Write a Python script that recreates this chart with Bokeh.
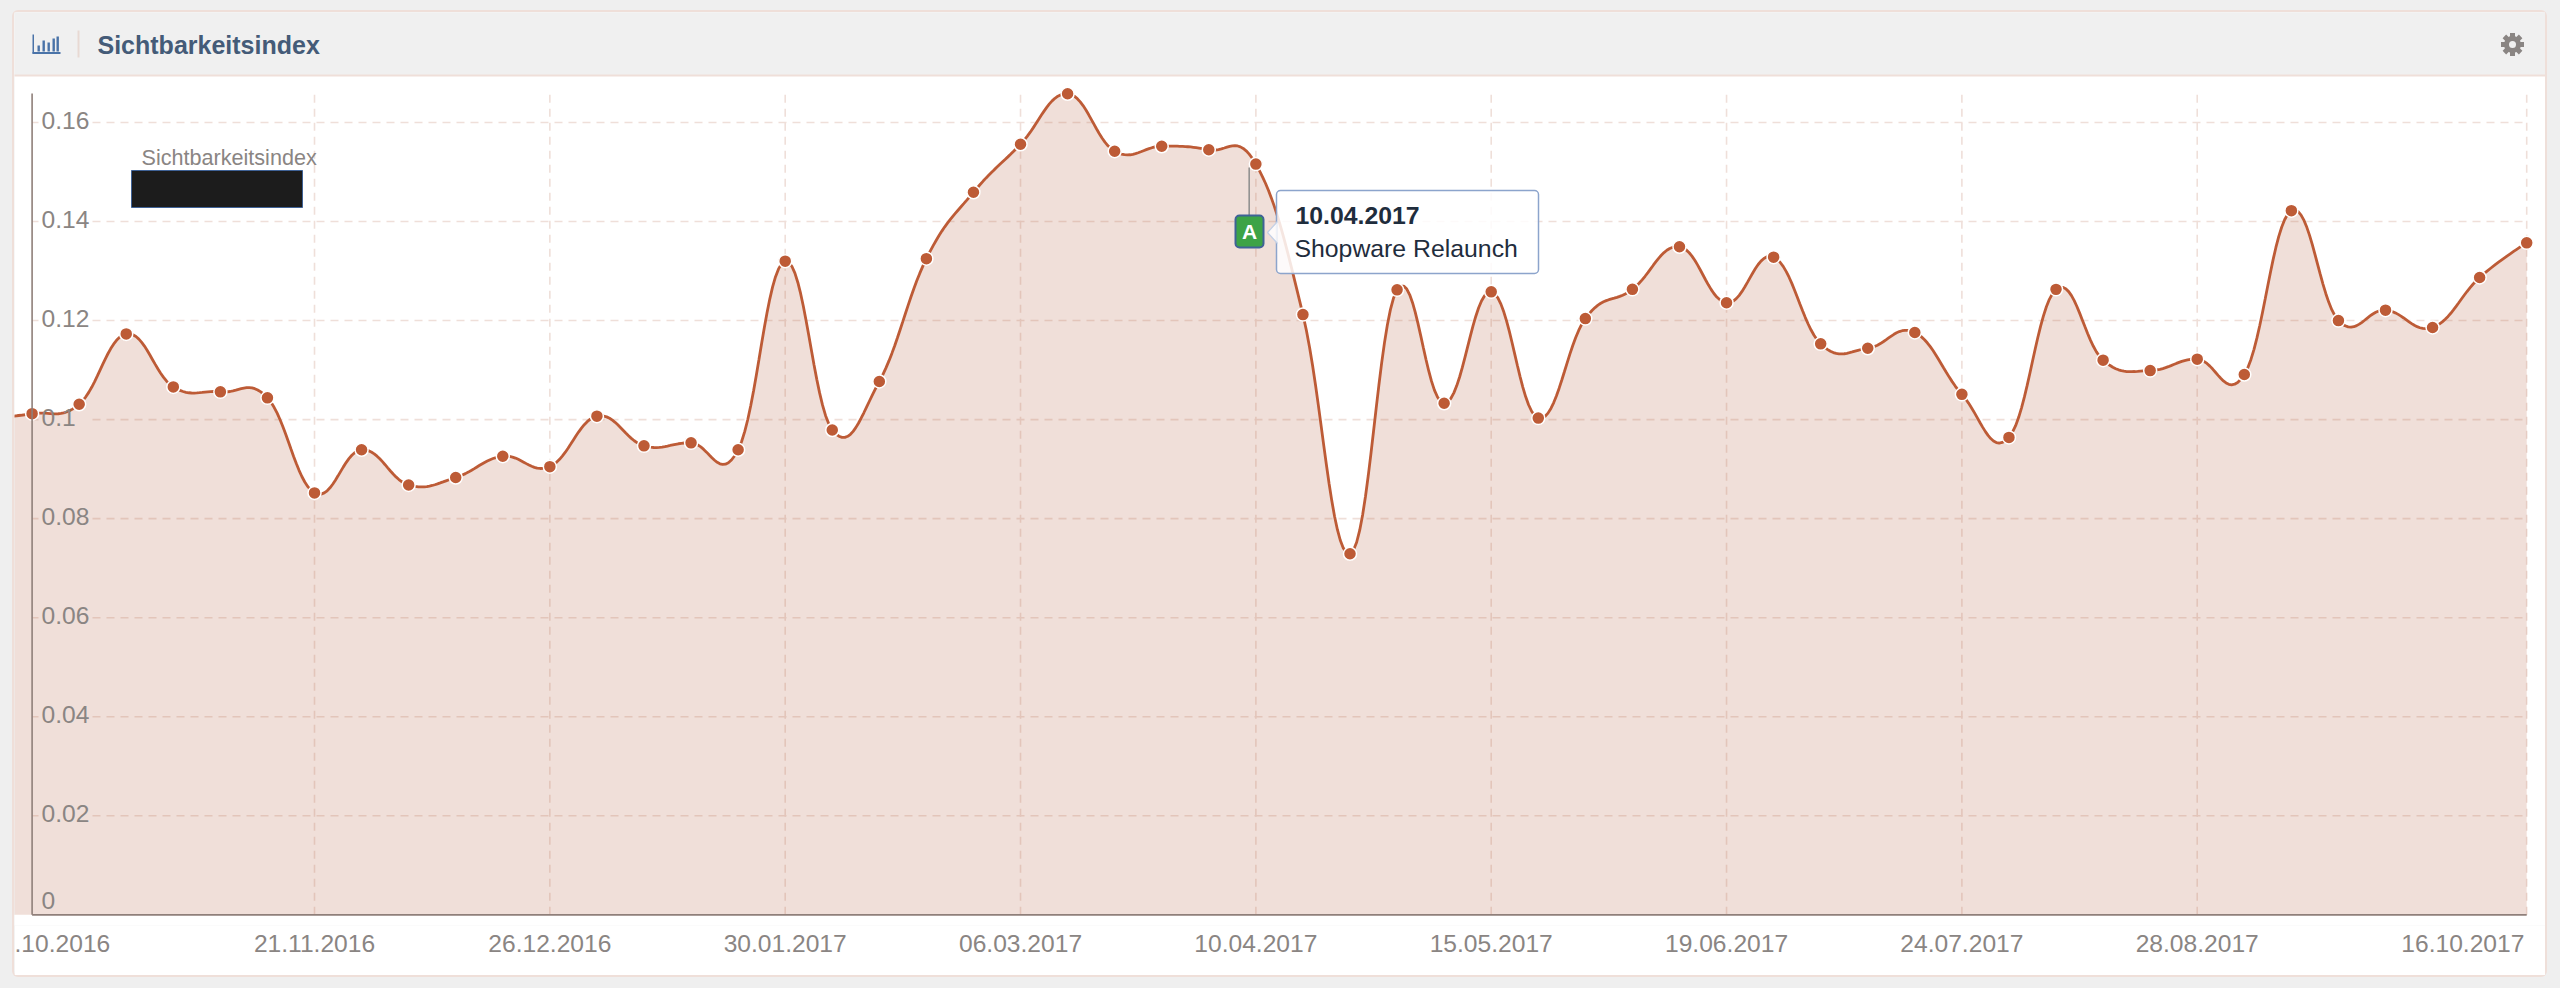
from bokeh.plotting import figure
from bokeh.embed import file_html
from bokeh.resources import INLINE
from bokeh.models import (BoxAnnotation, Label, Range1d, LinearAxis, FixedTicker)
from bokeh.core.properties import value

# ---------- data ----------
week_labels = ["10.10.2016", "21.11.2016", "26.12.2016", "30.01.2017", "06.03.2017", "10.04.2017",
               "15.05.2017", "19.06.2017", "24.07.2017", "28.08.2017", "16.10.2017"]
grid_weeks = [0, 6, 11, 16, 21, 26, 31, 36, 41, 46, 53]
lead_in_value = 0.1001
index_values = [
    0.1012, 0.1031, 0.1173, 0.1066, 0.1056, 0.1044, 0.0852, 0.0939, 0.0868, 0.0883,
    0.0926, 0.0905, 0.1007, 0.0947, 0.0953, 0.0939, 0.1320, 0.0979, 0.1077, 0.1325,
    0.1459, 0.1556, 0.1658, 0.1542, 0.1552, 0.1545, 0.1516, 0.1212, 0.0729, 0.1262,
    0.1033, 0.1258, 0.1003, 0.1204, 0.1263, 0.1349, 0.1236, 0.1328, 0.1153, 0.1144,
    0.1176, 0.1051, 0.0964, 0.1263, 0.1120, 0.1099, 0.1122, 0.1091, 0.1422, 0.1200,
    0.1221, 0.1186, 0.1287, 0.1357,
]
y_ticks = [0.02, 0.04, 0.06, 0.08, 0.10, 0.12, 0.14, 0.16]
y_tick_labels = ["0.02", "0.04", "0.06", "0.08", "0.1", "0.12", "0.14", "0.16"]
series_name = "Sichtbarkeitsindex"
panel_title = "Sichtbarkeitsindex"
flag_date = "10.04.2017"
flag_text = "Shopware Relaunch"
flag_week = 26

# ---------- style ----------
LINE = "#bd5b36"
AREA = "#b45f41"
GRID = "#efdfd9"
TEXT = "#8a8583"
AXIS = "#8f7f7a"
FONT = "Liberation Sans"

# the figure is the panel itself, the page behind it is the grey surround
OX, OY = 14, 12
W, H = 2531, 963
FRAME_B = 925
ZERO_PX = 914.3
PX_PER_DAY = 6.724
PX_PER_UNIT = 4952.0
DAY0_PX = 31.6
DAY_MIN = (OX - DAY0_PX) / PX_PER_DAY
DAY_MAX = (OX + W - DAY0_PX) / PX_PER_DAY
LAST_DAY = 7 * (len(index_values) - 1)
Y_MAX = (ZERO_PX - OY) / PX_PER_UNIT
Y_MIN = (ZERO_PX - FRAME_B) / PX_PER_UNIT
TOP_VAL = (ZERO_PX - 93) / PX_PER_UNIT

def X(px):
    return (px - DAY0_PX) / PX_PER_DAY

def Y(py):
    return (ZERO_PX - py) / PX_PER_UNIT

def smooth(xs, ys, steps=16):
    """Spline through the given points, tangents from the neighbours, overshoot allowed."""
    n = len(xs)
    left, right = [None] * n, [None] * n
    for i in range(n):
        if i == 0 or i == n - 1:
            left[i] = right[i] = (xs[i], ys[i])
            continue
        x, y = xs[i], ys[i]
        lx = (1.5 * x + xs[i - 1]) / 2.5
        ly = (1.5 * y + ys[i - 1]) / 2.5
        rx = (1.5 * x + xs[i + 1]) / 2.5
        ry = (1.5 * y + ys[i + 1]) / 2.5
        c = (ry - ly) * (rx - x) / (rx - lx) + y - ry
        left[i] = (lx, ly + c)
        right[i] = (rx, ry + c)
    ox, oy = [xs[0]], [ys[0]]
    for i in range(n - 1):
        p0, p1, p2, p3 = (xs[i], ys[i]), right[i], left[i + 1], (xs[i + 1], ys[i + 1])
        for k in range(1, steps + 1):
            t = k / steps
            u = 1 - t
            ox.append(u**3 * p0[0] + 3 * u * u * t * p1[0] + 3 * u * t * t * p2[0] + t**3 * p3[0])
            oy.append(u**3 * p0[1] + 3 * u * u * t * p1[1] + 3 * u * t * t * p2[1] + t**3 * p3[1])
    return ox, oy

days = [7 * i for i in range(len(index_values))]
cx, cy = smooth([-7] + days, [lead_in_value] + index_values)

p = figure(width=W, height=H, output_backend="svg", toolbar_location=None,
           x_range=Range1d(DAY_MIN, DAY_MAX), y_range=Range1d(Y_MIN, Y_MAX),
           min_border_left=0, min_border_right=0, min_border_top=0,
           min_border_bottom=OY + H - FRAME_B,
           x_axis_location=None, y_axis_location=None, margin=(OY, 0, 0, OX),
           background_fill_color="white", border_fill_color="white",
           outline_line_color=None)
p.styles = {"box-shadow": "0 0 0 2px " + GRID, "border-radius": "4px"}
p.xgrid.visible = False
p.ygrid.visible = False

# ---------- panel chrome ----------
def box(l, r, t, b, fill, line=None, lw=1, radius=0, level="annotation"):
    bx = BoxAnnotation(left=l - OX, right=r - OX, top=t - OY, bottom=b - OY,
                       left_units="canvas", right_units="canvas", top_units="canvas", bottom_units="canvas",
                       fill_color=fill, fill_alpha=1,
                       line_color=line, line_width=lw, line_alpha=1, level=level,
                       border_radius=radius, editable=False)
    p.add_layout(bx)
    return bx

def label(px, py, text, size, color, style="normal", align="left", base="middle", font=FONT, level="annotation"):
    p.add_layout(Label(x=px - OX, y=py - OY, x_units="canvas", y_units="canvas", text=text, text_font=font,
                       text_font_size=size, text_color=color, text_font_style=style, text_align=align,
                       text_baseline=base, level=level))

box(12, 2547, 10, 75, "#f0f0f0", level="underlay")
box(12, 2547, 74, 76, GRID, level="underlay")

# ---------- x axis ----------
tick_days = [4.5] + [7 * w for w in grid_weeks[1:-1]] + [361.5]
overrides = {d: t for d, t in zip(tick_days, week_labels)}
overrides[4.5] = ".10.2016"
xaxis = LinearAxis(ticker=FixedTicker(ticks=tick_days), major_label_overrides=overrides,
                   axis_line_color=None, major_tick_line_color=None, minor_tick_line_color=None,
                   major_label_text_font=FONT, major_label_text_font_size="24.6px",
                   major_label_text_color=TEXT, major_label_standoff=3)
p.add_layout(xaxis, "below")

# ---------- grid ----------
grid_days = [7 * w for w in grid_weeks[1:]]
p.segment(grid_days, [0] * len(grid_days), grid_days, [TOP_VAL] * len(grid_days),
          line_color=GRID, line_width=1.6, line_dash="8 6")
p.segment([X(92)] * len(y_ticks), y_ticks, [LAST_DAY] * len(y_ticks), y_ticks,
          line_color=GRID, line_width=1.6, line_dash="8 6")
p.segment([0] * len(y_ticks), y_ticks, [X(38)] * len(y_ticks), y_ticks,
          line_color=GRID, line_width=1.6)

# ---------- series ----------
p.varea(cx, [0] * len(cx), cy, fill_color=AREA, fill_alpha=0.2)
p.line(cx, cy, line_color=LINE, line_width=2.8)
p.scatter(days, index_values, size=13, marker="circle", fill_color=LINE, line_color="white", line_width=1.5)

# ---------- axes lines ----------
p.segment([0], [0], [0], [TOP_VAL], line_color=AXIS, line_width=1.6)
p.segment([0], [0], [LAST_DAY], [0], line_color=AXIS, line_width=1.8)

# ---------- y tick labels ----------
p.text([X(41)] * len(y_ticks), y_ticks, text=y_tick_labels, text_font=value(FONT), text_font_size="24.6px",
       text_color=TEXT, text_baseline="middle", text_align="left", y_offset=-2)
p.text([X(41)], [0], text=["0"], text_font=value(FONT), text_font_size="24.6px",
       text_color=TEXT, text_baseline="middle", text_align="left", y_offset=-14)

# ---------- legend with redacted value ----------
label(141, 157, series_name, "21.6px", TEXT)
box(131, 302, 170, 207, "#1c1c1c", "#3f6296", 1, 0)

# ---------- flag and tooltip ----------
flag_x = 7 * flag_week + X(1249) - X(1255.7)
p.segment([flag_x], [Y(167)], [flag_x], [Y(215)], line_color="#8c8c8c", line_width=1.5)
box(1235, 1263, 215, 247, "#3da346", "#3f6296", 2, 4)
label(1249, 231, "A", "21px", "white", "bold", "center")

box(1276, 1538, 190, 273, "white", "#8ca4cc", 1.5, 4).fill_alpha = 0.85
p.patch([X(1277), X(1267), X(1277)], [Y(221), Y(232), Y(243)], fill_color="white", fill_alpha=0.85,
        line_color=None, level="overlay")
p.line([X(1277), X(1267), X(1277)], [Y(221), Y(232), Y(243)], line_color="#c3d0e6", line_width=1.2, level="overlay")
label(1295, 215, flag_date, "24.8px", "#1f2d3d", "bold")
label(1294, 248, flag_text, "24.8px", "#1f2d3d")

# ---------- header ----------
label(97, 44, panel_title, "25px", "#445b78", "bold")
box(77, 79, 30, 57, "#e8d9d3")
box(32, 60, 51.5, 53.5, "#4a73a8")
box(32, 33.5, 34, 53, "#4a73a8")
for l, t in zip([37, 42, 47, 52, 56], [45, 40, 42, 38, 36]):
    box(l, l + 2.4, t, 51, "#4a73a8")

# gear icon
GEAR = "#8a8583"
gx, gy = [X(2512)], [Y(44)]
p.scatter(gx, gy, marker="cross", size=23, line_color=GEAR, line_width=5, fill_color=None, level="overlay")
p.scatter(gx, gy, marker="x", size=23, line_color=GEAR, line_width=5, fill_color=None, level="overlay")
p.scatter(gx, gy, marker="circle", size=17, fill_color=GEAR, line_color=None, level="overlay")
p.scatter(gx, gy, marker="circle", size=7, fill_color="#f0f0f0", line_color=None, level="overlay")

html = file_html(p, INLINE)
html = html.replace("</head>", "<style>html,body{background:#efefef;margin:0;overflow:hidden}</style></head>", 1)
open("out.html", "w").write(html)
